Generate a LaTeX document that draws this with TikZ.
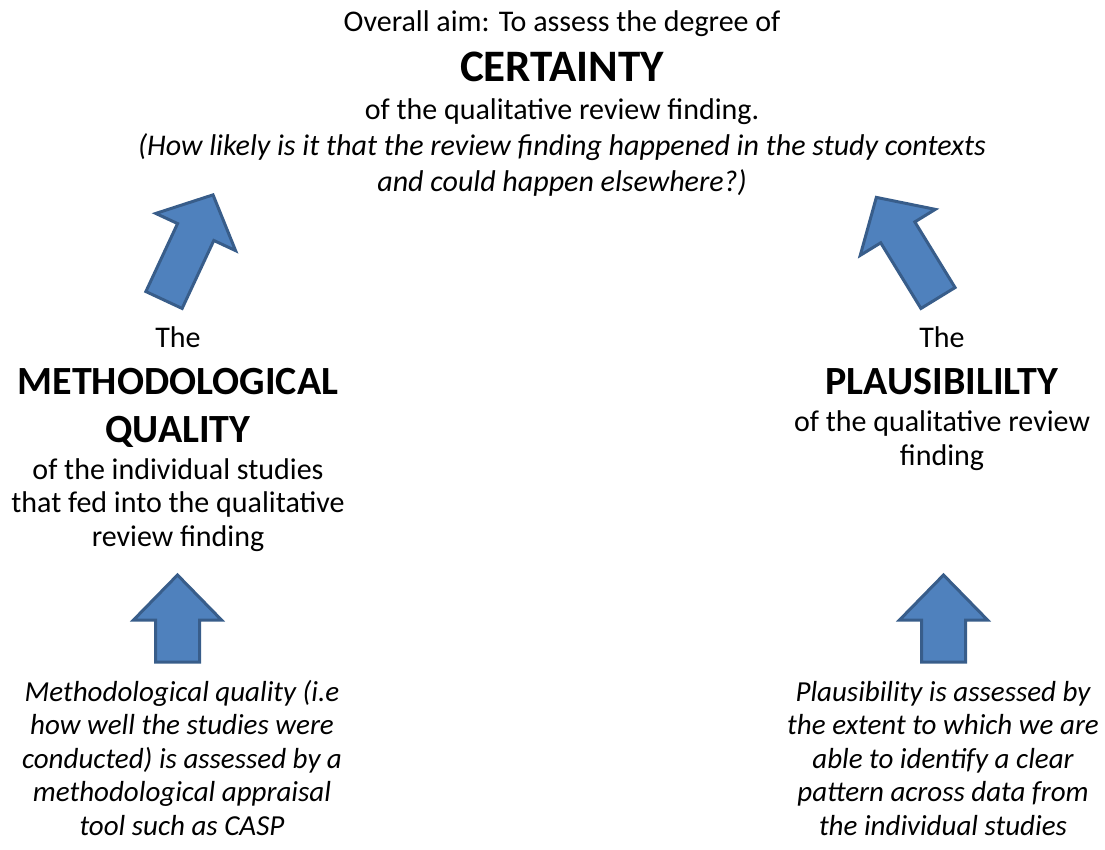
\documentclass[tikz,border=0pt]{standalone}
\usepackage{fontspec}
\setmainfont{Carlito}
\usepackage{tikz}
\usetikzlibrary{positioning}

\definecolor{arrowfill}{HTML}{4F81BD}
\definecolor{arrowline}{HTML}{385D8A}

\tikzset{
  plain/.style={font=\fontsize{30}{33.5}\selectfont, align=center, anchor=base, inner sep=0pt},
  big/.style={font=\fontsize{40}{48}\selectfont\bfseries, align=center, anchor=base, inner sep=0pt},
  note/.style={font=\fontsize{29}{33.5}\selectfont\itshape, align=center, anchor=base, inner sep=0pt},
  blockarrow/.style={fill=arrowfill, draw=arrowline, line width=3pt, line join=miter}
}

% block arrow: tail centre, angle, length, shaft half width, head half width, head length
\newcommand{\blockarrow}[6]{%
  \begin{scope}[shift={#1}, rotate=#2]
    \draw[blockarrow] (0,-#4) -- ({#3-#6},-#4) -- ({#3-#6},-#5) -- (#3,0)
      -- ({#3-#6},#5) -- ({#3-#6},#4) -- (0,#4) -- cycle;
  \end{scope}}

\begin{document}
\begin{tikzpicture}[x=1pt,y=1pt]
	\useasboundingbox (0,0) rectangle (1105,-850);

	% top (multi-line nodes sit on their last baseline)
	\node[plain] at (562,-32) (aim) {Overall aim: To assess the degree of};
	\node[big, font=\fontsize{45}{50}\selectfont\bfseries] at (562,-82) (certainty) {CERTAINTY};
	\node[plain, font=\fontsize{30}{36}\selectfont] at (562,-192) (certdesc) {of the qualitative review finding.\\
		\textit{(How likely is it that the review finding happened in the study contexts}\\
		\textit{and could happen elsewhere?)}};

	% left
	\node[plain] at (178,-347) (lthe) {The};
	\node[big] at (178,-442) (method) {METHODOLOGICAL\\QUALITY};
	\node[plain] at (178,-546) (methdesc) {of the individual studies\\that fed into the qualitative\\review finding};
	\node[note] at (182,-835) (methnote) {Methodological quality (i.e\\how well the studies were\\conducted) is assessed by a\\methodological appraisal\\tool such as CASP};

	% right
	\node[plain] at (942,-347) (rthe) {The};
	\node[big] at (942,-394) (plaus) {PLAUSIBILILTY};
	\node[plain] at (942,-465) (plausdesc) {of the qualitative review\\finding};
	\node[note] at (943,-835) (plausnote) {Plausibility is assessed by\\the extent to which we are\\able to identify a clear\\pattern across data from\\the individual studies};

	% arrows
	\blockarrow{(164,-300)}{65}{116}{20}{44}{41}
	\blockarrow{(938,-298)}{121.5}{118}{20}{44}{41}
	\blockarrow{(177.5,-662)}{90}{87}{22}{44}{45}
	\blockarrow{(943.5,-662)}{90}{87}{22}{44}{45}
\end{tikzpicture}
\end{document}
